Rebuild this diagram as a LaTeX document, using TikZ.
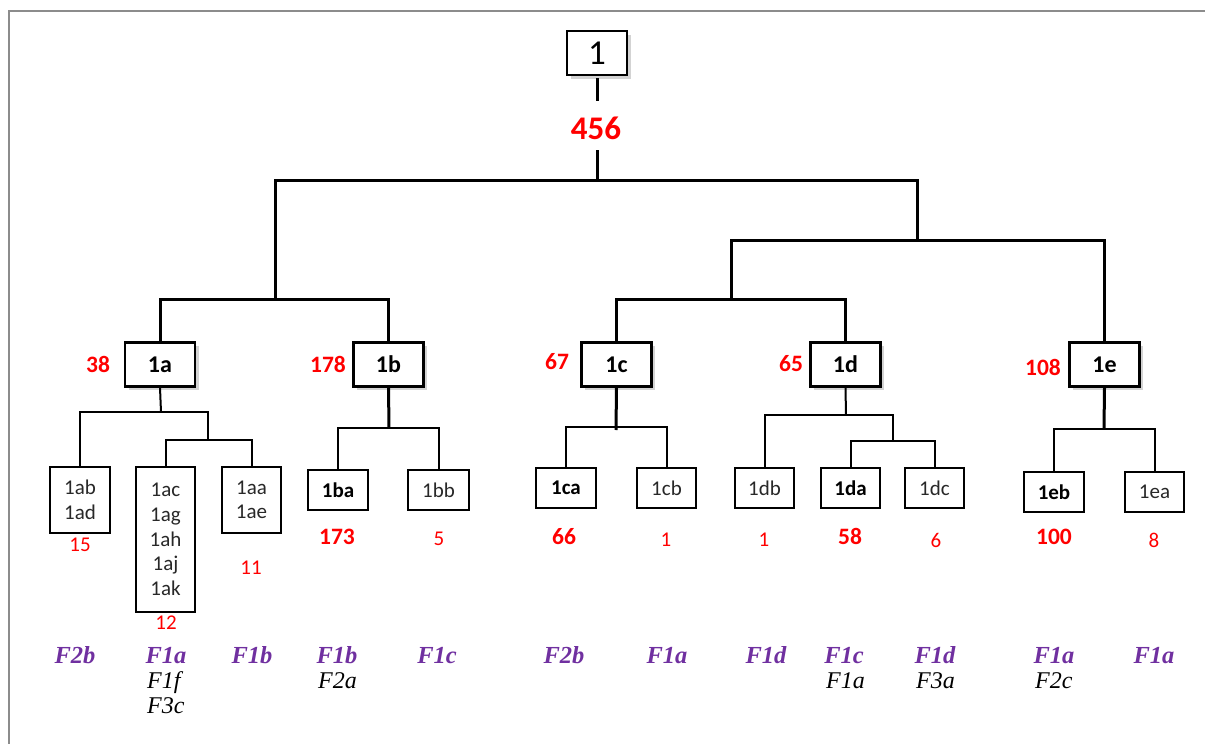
\documentclass[tikz,border=0pt]{standalone}
\usepackage{fontspec}
\setmainfont{Carlito}
\newfontfamily\ffam{Liberation Serif}
\usetikzlibrary{shadows}
\definecolor{myred}{RGB}{255,0,0}
\definecolor{mypurple}{RGB}{112,48,160}
\definecolor{framegray}{RGB}{140,140,140}
\definecolor{boxtext}{RGB}{40,40,40}
\begin{document}
\begin{tikzpicture}[x=1pt,y=-1pt,
  bigbox/.style={draw, line width=2.3pt, fill=white, minimum width=70pt, minimum height=44pt, inner sep=0pt,
    font=\fontsize{24}{26}\selectfont\bfseries,
    drop shadow={shadow xshift=3.5pt, shadow yshift=-3.5pt, opacity=0.35}},
  rootbox/.style={bigbox, minimum width=60pt, font=\fontsize{35}{36}\selectfont},
  smallbox/.style={draw, line width=1.8pt, fill=white, minimum width=60pt, minimum height=40pt, inner sep=0pt,
    align=center, text=boxtext, font=\fontsize{21}{24.6}\selectfont},
  boldsmall/.style={smallbox, text=black, font=\fontsize{21}{24.6}\selectfont\bfseries},
  rednum/.style={text=myred, inner sep=1pt, font=\fontsize{23.5}{24}\selectfont\bfseries},
  redbig/.style={text=myred, inner sep=1pt, font=\fontsize{33}{34}\selectfont\bfseries},
  redsmall/.style={text=myred, inner sep=1pt, font=\fontsize{21}{22}\selectfont},
  flab/.style={text=mypurple, anchor=base, inner sep=0pt, font=\fontsize{24.5}{26}\selectfont\ffam\bfseries\itshape},
  fsub/.style={text=black, anchor=base west, inner sep=0pt, font=\fontsize{24}{26}\selectfont\ffam\itshape},
  thickline/.style={line width=3pt},
  thinline/.style={line width=2pt}
]
\useasboundingbox (0,0) rectangle (1205,744);
\draw[framegray, line width=1.4pt] (9,744) -- (9,11) -- (1205,11);

% root
\node[rootbox] (n1) at (597,53) {1};
\node[redbig] (n456) at (596,128) {456};
\coordinate (c1) at (597,78);
\coordinate (c2) at (597,101);
\coordinate (c3) at (597,150);

% junctions
\coordinate (j0) at (597,180);
\coordinate (jA) at (275,299);
\coordinate (jR) at (917,240);
\coordinate (jCD) at (731,299);

% level 2 boxes
\node[bigbox] (n1a) at (160,364.5) {1a};
\node[bigbox] (n1b) at (388.5,364.5) {1b};
\node[bigbox] (n1c) at (616.5,364.5) {1c};
\node[bigbox] (n1d) at (845.5,364.5) {1d};
\node[bigbox] (n1e) at (1104.5,364.5) {1e};

\node[rednum] (r38) at (98,364) {38};
\node[rednum] (r178) at (328,364) {178};
\node[rednum] (r67) at (557,362) {67};
\node[rednum] (r65) at (791,364) {65};
\node[rednum] (r108) at (1043,367) {108};

\draw[thickline] (c1) -- (c2);
\draw[thickline] (c3) -- (j0);
\draw[thickline] (n1a.north) |- (jA) -| (n1b.north);
\draw[thickline] (jA) |- (j0) -| (jR);
\draw[thickline] (jCD) |- (jR) -| (n1e.north);
\draw[thickline] (n1c.north) |- (jCD) -| (n1d.north);

% 1a subtree
\node[smallbox, minimum height=66pt] (n1ab) at (80,500) {1ab\\1ad};
\node[smallbox, minimum width=59pt, minimum height=145pt] (n1ac) at (165.5,539.5) {1ac\\1ag\\1ah\\1aj\\1ak};
\node[smallbox, minimum width=59pt, minimum height=66pt] (n1aa) at (251.5,500) {1aa\\1ae};
\coordinate (ja) at (161,412);
\coordinate (jac) at (208,440);
\draw[thinline] (n1a.south) -- (ja);
\draw[thinline] (n1ab.north) |- (ja) -| (jac);
\draw[thinline] (n1ac.north) |- (jac) -| (n1aa.north);
\node[redsmall] (r15) at (80,545) {15};
\node[redsmall] (r12) at (166,623) {12};
\node[redsmall] (r11) at (251,568) {11};

% 1b subtree
\node[boldsmall] (n1ba) at (338,490) {1ba};
\node[smallbox, minimum width=61pt] (n1bb) at (438.5,490) {1bb};
\coordinate (jb) at (389,428);
\draw[thickline] (n1b.south) -- (jb);
\draw[thinline] (n1ba.north) |- (jb) -| (n1bb.north);
\node[rednum] (r173) at (337,537) {173};
\node[redsmall] (r5) at (439,539) {5};

% 1c subtree
\node[boldsmall] (n1ca) at (566,488) {1ca};
\node[smallbox, minimum width=59pt] (n1cb) at (666.5,488) {1cb};
\coordinate (jc) at (616,427);
\coordinate (jcx) at (616,430);
\draw[thickline] (n1c.south) -- (jcx);
\draw[thinline] (n1ca.north) |- (jc) -| (n1cb.north);
\node[rednum] (r66) at (564,537) {66};
\node[redsmall] (r1c) at (666,540) {1};

% 1d subtree
\node[smallbox, minimum width=59pt] (n1db) at (764.5,488) {1db};
\node[boldsmall, minimum width=59pt] (n1da) at (850.5,488) {1da};
\node[smallbox, minimum width=59pt] (n1dc) at (934.5,488) {1dc};
\coordinate (jd) at (846,415);
\coordinate (jdd) at (893,441);
\draw[thinline] (n1d.south) -- (jd);
\draw[thinline] (n1db.north) |- (jd) -| (jdd);
\draw[thinline] (n1da.north) |- (jdd) -| (n1dc.north);
\node[redsmall] (r1d) at (764,540) {1};
\node[rednum] (r58) at (850,536) {58};
\node[redsmall] (r6) at (936,540) {6};

% 1e subtree
\node[boldsmall] (n1eb) at (1054,492) {1eb};
\node[smallbox, minimum width=59pt] (n1ea) at (1154.5,492) {1ea};
\coordinate (je) at (1104,429);
\draw[thickline] (n1e.south) -- (je);
\draw[thinline] (n1eb.north) |- (je) -| (n1ea.north);
\node[rednum] (r100) at (1054,537) {100};
\node[redsmall] (r8) at (1154,540) {8};

% F labels
\node[flab] (f1) at (75,663) {F2b};
\node[flab] (f2) at (166,663) {F1a};
\node[fsub] (f2a) at (147,688) {F1f};
\node[fsub] (f2b) at (147,713) {F3c};
\node[flab] (f3) at (252,663) {F1b};
\node[flab] (f4) at (337,663) {F1b};
\node[fsub] (f4a) at (318,688) {F2a};
\node[flab] (f5) at (437,663) {F1c};
\node[flab] (f6) at (564,663) {F2b};
\node[flab] (f7) at (667,663) {F1a};
\node[flab] (f8) at (766,663) {F1d};
\node[flab] (f9) at (844,663) {F1c};
\node[fsub] (f9a) at (826,688) {F1a};
\node[flab] (f10) at (935,663) {F1d};
\node[fsub] (f10a) at (916,688) {F3a};
\node[flab] (f11) at (1054,663) {F1a};
\node[fsub] (f11a) at (1035,688) {F2c};
\node[flab] (f12) at (1154,663) {F1a};
\end{tikzpicture}
\end{document}
